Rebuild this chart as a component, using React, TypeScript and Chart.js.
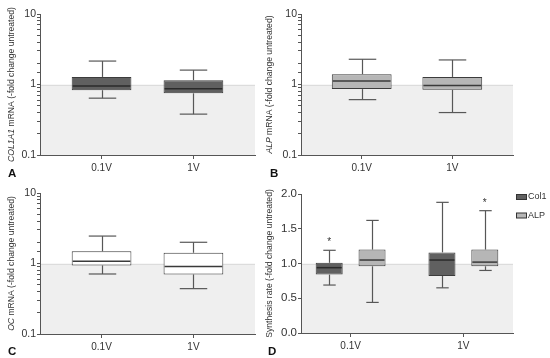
import React, { useEffect, useRef } from "react";
import { Chart, registerables } from "chart.js";

Chart.register(...registerables);

// ---------------- data ----------------
const CATEGORIES = ["0.1V", "1V"];
// each entry: [lower whisker, Q1, median, Q3, upper whisker]
const COL1A1_MRNA = [
  [0.64, 0.83, 0.95, 1.28, 2.15],
  [0.38, 0.75, 0.87, 1.15, 1.6],
];
const ALP_MRNA = [
  [0.61, 0.86, 1.12, 1.4, 2.28],
  [0.4, 0.84, 0.97, 1.28, 2.23],
];
const OC_MRNA = [
  [0.71, 0.94, 1.08, 1.49, 2.45],
  [0.44, 0.7, 0.91, 1.42, 2.0],
];
const SYNTHESIS_COL1 = [
  [0.69, 0.84, 0.94, 1.01, 1.19],
  [0.65, 0.82, 1.05, 1.16, 1.88],
];
const SYNTHESIS_ALP = [
  [0.44, 0.96, 1.05, 1.2, 1.62],
  [0.9, 0.96, 1.02, 1.2, 1.76],
];
const SYNTHESIS_COL1_SIG = [true, false];
const SYNTHESIS_ALP_SIG = [false, true];
const LOG_TICK_LABELS = [0.1, 1, 10];
const REFERENCE_LEVEL = 1;

// ---------------- style ----------------
const FONT = "'Liberation Sans', Arial, sans-serif";
const AXIS = "#555555";
const TEXT = "#333333";
const DARK = "#606060";
const LIGHT = "#b6b6b6";
const WHITE = "#ffffff";
const SHADE = "#efefef";

type Part = { t: string; i?: boolean };
type Series = { label: string; stats: number[][]; fill: string; median: string; sig?: boolean[] };
type Panel = {
  letter: string;
  box: { x: number; y: number; w: number; h: number };
  area: { l: number; t: number; r: number; b: number };
  yType: "logarithmic" | "linear";
  yMin: number;
  yMax: number;
  title: Part[];
  titleX: number;
  letterPos: { x: number; y: number };
  series: Series[];
  xMin: number;
  xMax: number;
  barPct: number;
  catPct: number;
  yFont: number;
  legend: boolean;
};

const PANELS: Panel[] = [
  {
    letter: "A",
    box: { x: 0, y: 0, w: 262, h: 179 },
    area: { l: 40, t: 14, r: 255, b: 155 },
    yType: "logarithmic",
    yMin: 0.1,
    yMax: 10,
    title: [{ t: "COL1A1", i: true }, { t: " mRNA (-fold change untreated)" }],
    titleX: 12,
    letterPos: { x: 8, y: 177 },
    series: [{ label: "COL1A1", stats: COL1A1_MRNA, fill: DARK, median: "#2a2a2a" }],
    xMin: 0.33,
    xMax: 2.67,
    barPct: 0.65,
    catPct: 1,
    yFont: 10.5,
    legend: false,
  },
  {
    letter: "B",
    box: { x: 262, y: 0, w: 288, h: 179 },
    area: { l: 39, t: 14, r: 251, b: 155 },
    yType: "logarithmic",
    yMin: 0.1,
    yMax: 10,
    title: [{ t: "ALP", i: true }, { t: " mRNA (-fold change untreated)" }],
    titleX: 8,
    letterPos: { x: 8, y: 177 },
    series: [{ label: "ALP", stats: ALP_MRNA, fill: LIGHT, median: "#3a3a3a" }],
    xMin: 0.33,
    xMax: 2.67,
    barPct: 0.66,
    catPct: 1,
    yFont: 10.5,
    legend: false,
  },
  {
    letter: "C",
    box: { x: 0, y: 179, w: 262, h: 179 },
    area: { l: 40, t: 14, r: 255, b: 155 },
    yType: "logarithmic",
    yMin: 0.1,
    yMax: 10,
    title: [{ t: "OC", i: true }, { t: " mRNA (-fold change untreated)" }],
    titleX: 12,
    letterPos: { x: 8, y: 176 },
    series: [{ label: "OC", stats: OC_MRNA, fill: WHITE, median: "#3a3a3a" }],
    xMin: 0.33,
    xMax: 2.67,
    barPct: 0.65,
    catPct: 1,
    yFont: 10.5,
    legend: false,
  },
  {
    letter: "D",
    box: { x: 262, y: 179, w: 288, h: 179 },
    area: { l: 39, t: 15, r: 251, b: 154 },
    yType: "linear",
    yMin: 0,
    yMax: 2,
    title: [{ t: "Synthesis rate (-fold change untreated)" }],
    titleX: 8,
    letterPos: { x: 6, y: 176 },
    series: [
      { label: "Col1", stats: SYNTHESIS_COL1, fill: DARK, median: "#2a2a2a", sig: SYNTHESIS_COL1_SIG },
      { label: "ALP", stats: SYNTHESIS_ALP, fill: LIGHT, median: "#3a3a3a", sig: SYNTHESIS_ALP_SIG },
    ],
    xMin: 0.56,
    xMax: 2.44,
    barPct: 0.63,
    catPct: 0.76,
    yFont: 11.5,
    legend: true,
  },
];

function line(ctx: CanvasRenderingContext2D, x1: number, y1: number, x2: number, y2: number) {
  ctx.beginPath();
  ctx.moveTo(x1, y1);
  ctx.lineTo(x2, y2);
  ctx.stroke();
}

function makePlugin(p: Panel) {
  return {
    id: "boxDecor" + p.letter,
    beforeDraw(chart: any) {
      const { ctx, chartArea } = chart;
      const ys = chart.scales.y;
      const y1 = ys.getPixelForValue(REFERENCE_LEVEL);
      ctx.save();
      ctx.fillStyle = SHADE;
      ctx.fillRect(chartArea.left, y1, chartArea.right - chartArea.left, chartArea.bottom - y1);
      ctx.strokeStyle = "#dcdcdc";
      ctx.lineWidth = 1;
      line(ctx, chartArea.left, Math.round(y1) + 0.5, chartArea.right, Math.round(y1) + 0.5);
      ctx.restore();
    },
    afterDatasetsDraw(chart: any) {
      const { ctx } = chart;
      const ys = chart.scales.y;
      const py = (v: number) => ys.getPixelForValue(v);
      ctx.save();
      p.series.forEach((s, di) => {
        const meta = chart.getDatasetMeta(di);
        meta.data.forEach((bar: any, i: number) => {
          const st = s.stats[i];
          const { x, width } = bar.getProps(["x", "width"], true);
          const cx = Math.round(x) + 0.5;
          const cap = width * 0.46;
          ctx.strokeStyle = "#575757";
          ctx.lineWidth = 1.2;
          line(ctx, cx, py(st[3]), cx, py(st[4]));
          line(ctx, cx - cap / 2, py(st[4]), cx + cap / 2, py(st[4]));
          line(ctx, cx, py(st[1]), cx, py(st[0]));
          line(ctx, cx - cap / 2, py(st[0]), cx + cap / 2, py(st[0]));
          ctx.strokeStyle = s.median;
          ctx.lineWidth = 1.5;
          line(ctx, x - width / 2 + 1, py(st[2]), x + width / 2 - 1, py(st[2]));
          if (s.sig && s.sig[i]) {
            ctx.fillStyle = TEXT;
            ctx.font = `10px ${FONT}`;
            ctx.textAlign = "center";
            ctx.textBaseline = "alphabetic";
            ctx.fillText("*", x, py(st[4]) - 5);
          }
        });
      });
      ctx.restore();
    },
    afterDraw(chart: any) {
      const { ctx, chartArea } = chart;
      ctx.save();
      // axis title with mixed italic parts
      const size = 8.6;
      const fontFor = (pt: Part) => `${pt.i ? "italic " : ""}${size}px ${FONT}`;
      let total = 0;
      const widths = p.title.map((pt) => {
        ctx.font = fontFor(pt);
        const w = ctx.measureText(pt.t).width;
        total += w;
        return w;
      });
      const cy = (chartArea.top + chartArea.bottom) / 2;
      ctx.translate(p.titleX, cy);
      ctx.rotate(-Math.PI / 2);
      ctx.fillStyle = TEXT;
      ctx.textBaseline = "middle";
      ctx.textAlign = "left";
      let xx = -total / 2;
      p.title.forEach((pt, k) => {
        ctx.font = fontFor(pt);
        ctx.fillText(pt.t, xx, 0);
        xx += widths[k];
      });
      ctx.restore();

      // panel letter
      ctx.save();
      ctx.fillStyle = "#111";
      ctx.font = `bold 11.5px ${FONT}`;
      ctx.textAlign = "left";
      ctx.textBaseline = "alphabetic";
      ctx.fillText(p.letter, p.letterPos.x, p.letterPos.y);
      ctx.restore();

      // legend
      if (p.legend) {
        ctx.save();
        p.series.forEach((s, k) => {
          const lx = chartArea.right + 3;
          const ly = chartArea.top + 3 + k * 18.5;
          ctx.fillStyle = s.fill;
          ctx.fillRect(lx + 0.5, ly - 2.5, 10, 5);
          ctx.strokeStyle = "#333";
          ctx.lineWidth = 1;
          ctx.strokeRect(lx + 0.5, ly - 2.5, 10, 5);
          ctx.fillStyle = TEXT;
          ctx.font = `9px ${FONT}`;
          ctx.textBaseline = "middle";
          ctx.textAlign = "left";
          ctx.fillText(s.label, lx + 12, ly);
        });
        ctx.restore();
      }
    },
  };
}

function PanelChart({ p }: { p: Panel }) {
  const ref = useRef<HTMLCanvasElement | null>(null);
  useEffect(() => {
    const W = p.box.w;
    const H = p.box.h;
    const datasets = p.series.map((s) => ({
      label: s.label,
      data: s.stats.map((st, i) => ({ x: i + 1, y: [st[1], st[3]] })),
      backgroundColor: s.fill,
      borderColor: "#3c3c3c",
      borderWidth: 1,
      borderSkipped: false,
      barPercentage: p.barPct,
      categoryPercentage: p.catPct,
    }));
    const isLog = p.yType === "logarithmic";
    const chart = new Chart(ref.current as HTMLCanvasElement, {
      type: "bar",
      data: { datasets } as any,
      options: {
        animation: false,
        responsive: false,
        devicePixelRatio: 1,
        layout: { padding: { left: 0, top: p.area.t, right: W - p.area.r, bottom: 0 } },
        plugins: { legend: { display: false }, tooltip: { enabled: false } },
        scales: {
          x: {
            type: "linear",
            min: p.xMin,
            max: p.xMax,
            offset: false,
            afterBuildTicks: (s: any) => {
              s.ticks = CATEGORIES.map((_, i) => ({ value: i + 1 }));
            },
            afterFit: (s: any) => {
              s.height = H - p.area.b;
            },
            grid: { drawOnChartArea: false, drawTicks: true, tickLength: 4, color: AXIS, offset: false },
            border: { display: true, color: AXIS, width: 1 },
            ticks: {
              autoSkip: false,
              maxRotation: 0,
              padding: 3,
              color: TEXT,
              font: { family: FONT, size: 10 },
              callback: (v: any) => CATEGORIES[Math.round(Number(v)) - 1] ?? "",
            },
          },
          y: {
            type: p.yType,
            min: p.yMin,
            max: p.yMax,
            afterFit: (s: any) => {
              s.width = p.area.l;
            },
            grid: { drawOnChartArea: false, drawTicks: true, tickLength: 3, color: AXIS },
            border: { display: true, color: AXIS, width: 1 },
            ticks: {
              autoSkip: false,
              padding: 1,
              color: TEXT,
              font: { family: FONT, size: p.yFont },
              ...(isLog ? {} : { stepSize: 0.5 }),
              callback: (v: any) => {
                const n = Number(v);
                if (isLog) {
                  const hit = LOG_TICK_LABELS.find((t) => Math.abs(n - t) < t * 1e-6);
                  return hit !== undefined ? String(hit) : "";
                }
                return n.toFixed(1);
              },
            },
          } as any,
        },
      } as any,
      plugins: [makePlugin(p)],
    });
    return () => chart.destroy();
  }, [p]);
  return (
    <canvas
      ref={ref}
      width={p.box.w}
      height={p.box.h}
      style={{ position: "absolute", left: p.box.x, top: p.box.y, width: p.box.w, height: p.box.h }}
    />
  );
}

export default function App() {
  return (
    <div style={{ position: "absolute", left: 0, top: 0, width: 550, height: 358, background: "#ffffff", overflow: "hidden" }}>
      {PANELS.map((p) => (
        <PanelChart key={p.letter} p={p} />
      ))}
    </div>
  );
}
